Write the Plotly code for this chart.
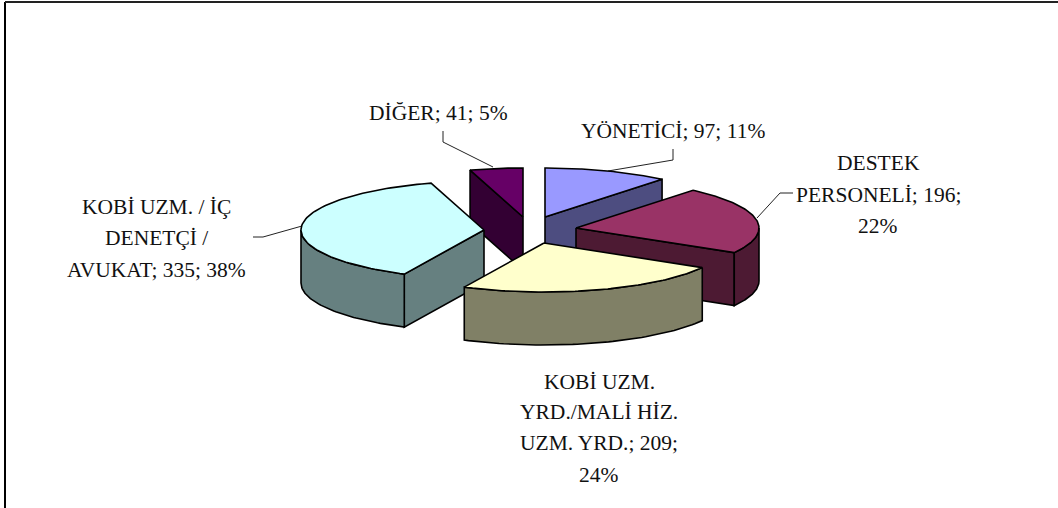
import numpy as np
import plotly.graph_objects as go

categories = ["YÖNETİCİ", "DESTEK PERSONELİ", "KOBİ UZM. YRD./MALİ HİZ. UZM. YRD.",
              "KOBİ UZM. / İÇ DENETÇİ / AVUKAT", "DİĞER"]
values = [97, 196, 209, 335, 41]
top_colors = ["#9999FF", "#993366", "#FFFFCC", "#CCFFFF", "#660066"]
wall_colors = ["#4D4D80", "#4D1A33", "#808066", "#668080", "#330033"]

# pie geometry (pixels): exploded origin of every slice
origin_x = [545, 576, 544, 484, 523]
origin_y = [217, 228, 243, 230, 217]
RX, RY, DEPTH = 183, 49, 53
draw_order = [4, 0, 1, 3, 2]

label_lines = [
    (["YÖNETİCİ; 97; 11%"], 673, [131]),
    (["DESTEK", "PERSONELİ; 196;", "22%"], 878, [163, 195, 226]),
    (["KOBİ UZM.", "YRD./MALİ HİZ.", "UZM. YRD.; 209;", "24%"], 599, [382, 412, 443, 475]),
    (["KOBİ UZM. / İÇ", "DENETÇİ /", "AVUKAT; 335; 38%"], 156, [207, 238, 270]),
    (["DİĞER; 41; 5%"], 438, [113]),
]
leaders = [
    ([673, 673, 608], [149, 160, 171]),
    ([793, 780, 757], [193, 193, 218]),
    ([253, 263, 302], [237, 237, 226]),
    ([443, 443, 493], [131, 142, 167]),
]

fracs = np.array(values) / sum(values)
ends = np.cumsum(fracs) * 360
starts = ends - fracs * 360

fig = go.Figure()


def poly(xs, ys, fill):
    fig.add_trace(go.Scatter(x=list(xs), y=list(ys), mode="lines", fill="toself", fillcolor=fill,
                             line=dict(color="black", width=1.6), hoverinfo="skip", showlegend=False))


def pt(ox, oy, deg):
    t = np.radians(deg)
    return ox + RX * np.sin(t), oy - RY * np.cos(t)


for lx, ly in leaders:
    fig.add_trace(go.Scatter(x=lx, y=ly, mode="lines", line=dict(color="#222222", width=1),
                             hoverinfo="skip", showlegend=False))

for i in draw_order:
    ox, oy, a0, a1 = origin_x[i], origin_y[i], starts[i], ends[i]
    wall, top = wall_colors[i], top_colors[i]
    # start cut face
    if np.sin(np.radians(a0)) < 0:
        px, py = pt(ox, oy, a0)
        poly([ox, px, px, ox, ox], [oy, py, py + DEPTH, oy + DEPTH, oy], wall)
    # end cut face
    if np.sin(np.radians(a1)) > 0:
        px, py = pt(ox, oy, a1)
        poly([ox, px, px, ox, ox], [oy, py, py + DEPTH, oy + DEPTH, oy], wall)
    # front part of the rim
    r0, r1 = max(a0, 90), min(a1, 270)
    if r1 > r0:
        th = np.linspace(r0, r1, 60)
        px, py = pt(ox, oy, th)
        poly(np.r_[px, px[::-1], px[0]], np.r_[py, py[::-1] + DEPTH, py[0]], wall)
    # top face
    th = np.linspace(a0, a1, 90)
    px, py = pt(ox, oy, th)
    poly(np.r_[ox, px, ox], np.r_[oy, py, oy], top)

annotations = []
for lines, cx, ys in label_lines:
    for text, y in zip(lines, ys):
        annotations.append(dict(x=cx, y=y, text=text, showarrow=False, xref="x", yref="y",
                                xanchor="center", yanchor="middle",
                                font=dict(family="Liberation Serif", size=21.5, color="#111111")))

fig.update_layout(
    width=1058, height=508, margin=dict(l=0, r=0, t=0, b=0),
    paper_bgcolor="white", plot_bgcolor="white", showlegend=False,
    xaxis=dict(range=[0, 1058], visible=False, fixedrange=True),
    yaxis=dict(range=[508, 0], visible=False, fixedrange=True),
    annotations=annotations,
    shapes=[
        dict(type="line", xref="x", yref="y", x0=5, x1=5, y0=2, y1=508, line=dict(color="black", width=2)),
        dict(type="line", xref="x", yref="y", x0=5, x1=1058, y0=2, y1=2, line=dict(color="#222222", width=2)),
    ],
)
fig.write_html("out.html", config={"displayModeBar": False},
               post_script="document.body.style.margin='0';document.body.style.overflow='hidden';")
